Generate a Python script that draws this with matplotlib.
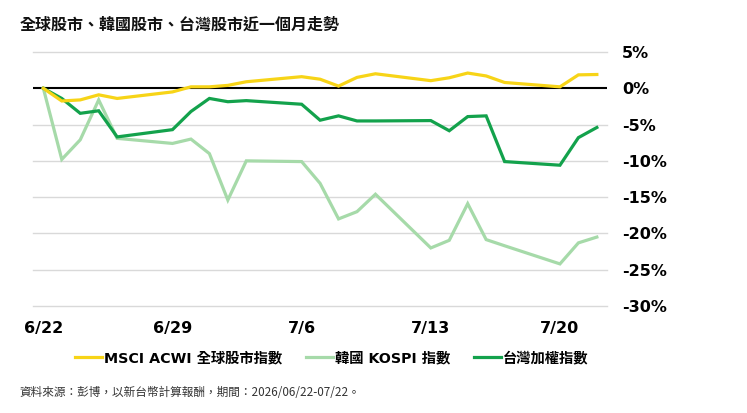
import matplotlib
matplotlib.use("Agg")
import matplotlib.pyplot as plt
from matplotlib.lines import Line2D
import pandas as pd

# ---- data ----
dates = ["2026-06-22", "2026-06-23", "2026-06-24", "2026-06-25", "2026-06-26",
         "2026-06-29", "2026-06-30", "2026-07-01", "2026-07-02", "2026-07-03",
         "2026-07-06", "2026-07-07", "2026-07-08", "2026-07-09", "2026-07-10",
         "2026-07-13", "2026-07-14", "2026-07-15", "2026-07-16", "2026-07-17",
         "2026-07-20", "2026-07-21", "2026-07-22"]
acwi = [0, -1.75, -1.6, -0.9, -1.4, -0.5, 0.2, 0.2, 0.4, 0.9,
        1.6, 1.25, 0.3, 1.5, 2.0, 1.05, 1.45, 2.1, 1.7, 0.8,
        0.2, 1.85, 1.9]
kospi = [0, -9.8, -7.1, -1.6, -6.9, -7.6, -7.0, -9.0, -15.4, -10.0,
         -10.1, -13.1, -18.0, -17.0, -14.6, -22.0, -20.95, -15.9, -20.85, -21.7,
         -24.2, -21.3, -20.5]
taiex = [0, -1.4, -3.45, -3.1, -6.7, -5.7, -3.2, -1.4, -1.85, -1.7,
         -2.2, -4.4, -3.8, -4.5, -4.5, -4.45, -5.85, -3.9, -3.8, -10.1,
         -10.6, -6.8, -5.4]
series_names = ["MSCI ACWI 全球股市指數", "韓國 KOSPI 指數", "台灣加權指數"]
x_ticks = ["2026-06-22", "2026-06-29", "2026-07-06", "2026-07-13", "2026-07-20"]
x_tick_labels = ["6/22", "6/29", "7/6", "7/13", "7/20"]
y_ticks = [5, 0, -5, -10, -15, -20, -25, -30]
y_tick_labels = ["5%", "0%", "-5%", "-10%", "-15%", "-20%", "-25%", "-30%"]
title = "全球股市、韓國股市、台灣股市近一個月走勢"
source = "資料來源：彭博，以新台幣計算報酬，期間：2026/06/22-07/22。"

# ---- style ----
c_acwi = "#F7D417"
c_kospi = "#A6DAA9"
c_taiex = "#13A24C"
fonts = ["DejaVu Sans", "Noto Sans CJK TC"]
cjk = ["Noto Sans CJK TC", "DejaVu Sans"]

x = pd.to_datetime(dates)

fig = plt.figure(figsize=(7.47, 4.13), dpi=100)
ax = fig.add_axes([33 / 747, 1 - 306 / 413, (607 - 33) / 747, (306 - 52) / 413])

ax.plot(x, kospi, color=c_kospi, lw=2.3, zorder=3, solid_joinstyle="miter")
ax.plot(x, taiex, color=c_taiex, lw=2.3, zorder=4, solid_joinstyle="miter")
ax.axhline(0, color="black", lw=1.5, zorder=2.5)
ax.plot(x, acwi, color=c_acwi, lw=2.3, zorder=5, solid_joinstyle="miter")

x0 = pd.Timestamp(dates[0])
ax.set_xlim(x0 - pd.Timedelta(days=0.56), x0 + pd.Timedelta(days=30.55))
ax.set_ylim(-30, 5)

ax.set_xticks(pd.to_datetime(x_ticks))
ax.set_xticklabels(x_tick_labels, fontsize=11.5, fontweight="bold", family=fonts)
ax.set_yticks(y_ticks)
ax.set_yticklabels(y_tick_labels, fontsize=11.5, fontweight="bold", family=fonts)
ax.yaxis.tick_right()
ax.tick_params(axis="both", length=0)
ax.tick_params(axis="y", pad=11)
ax.tick_params(axis="x", pad=11)
ax.grid(False)
for yv in y_ticks:
    if yv != 0:
        ax.axhline(yv, color="#d9d9d9", lw=1, zorder=1, clip_on=False)
for s in ax.spines.values():
    s.set_visible(False)

fig.text(20 / 747, 1 - 25 / 413, title, fontsize=11.5, fontweight="bold",
         family=cjk, va="center", ha="left", color="#111111")

handles = [Line2D([], [], color=c_acwi, lw=2.3),
           Line2D([], [], color=c_kospi, lw=2.3),
           Line2D([], [], color=c_taiex, lw=2.3)]
fig.legend(handles, series_names, loc="center left",
           bbox_to_anchor=(75 / 747, 1 - 358 / 413), ncol=3, frameon=False,
           borderpad=0, borderaxespad=0, handlelength=1.9, handletextpad=0.1,
           columnspacing=1.7,
           prop={"family": fonts, "weight": "bold", "size": 10.3})

fig.text(20 / 747, 1 - 392 / 413, source, fontsize=8.4, family=cjk,
         va="center", ha="left", color="#333333")

fig.savefig("out.png", dpi=100, facecolor="white")
